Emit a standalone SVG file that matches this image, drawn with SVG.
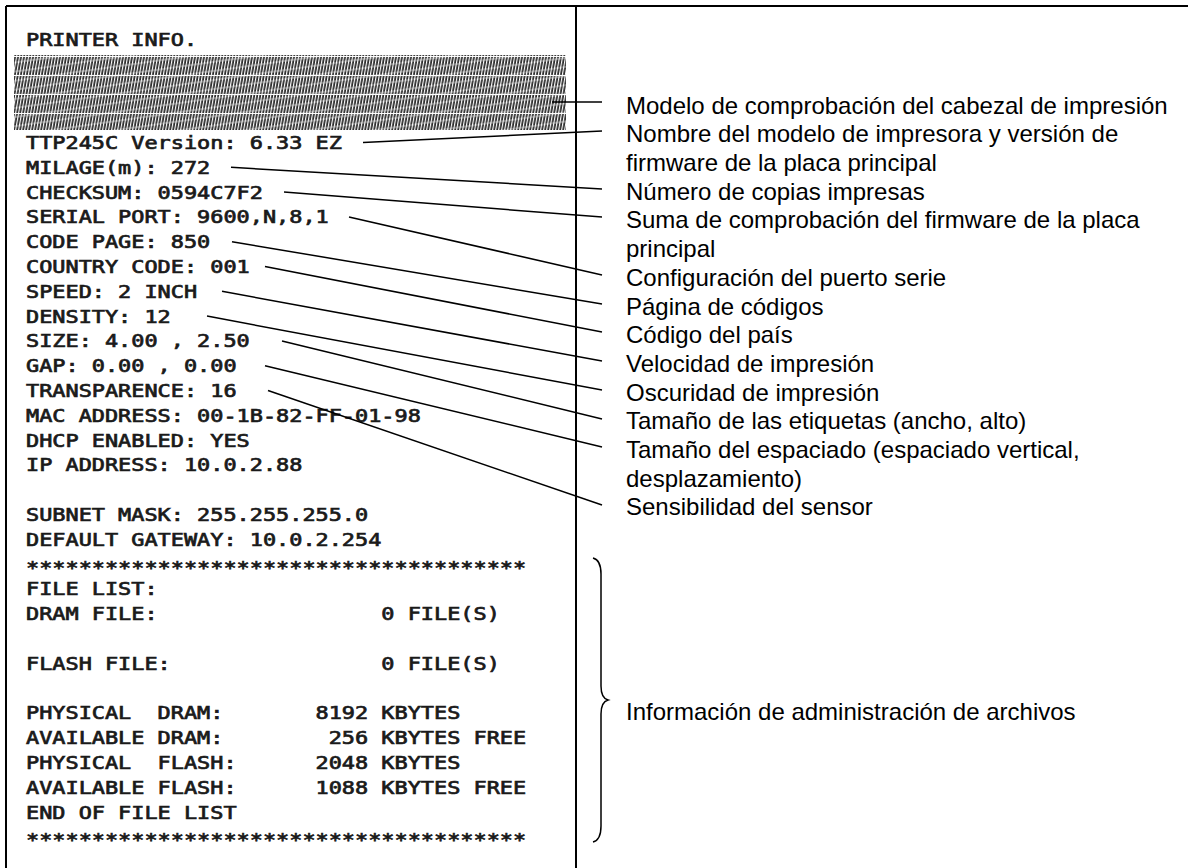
<svg xmlns="http://www.w3.org/2000/svg" width="1188" height="868" viewBox="0 0 1188 868">
<style>
.frame{stroke:#000;stroke-width:2;fill:none}
.pr{font-family:"DejaVu Sans Mono","Liberation Mono",monospace;font-size:17.5px;font-weight:normal;fill:#1a1a1a;stroke:#1a1a1a;stroke-width:0.7;white-space:pre}
.lb{font-family:"Liberation Sans",Arial,sans-serif;font-size:24px;fill:#000}
.cn{stroke:#000;stroke-width:1.5;fill:none}
</style>
<defs>
<pattern id="hatch" width="3" height="19" patternUnits="userSpaceOnUse" patternTransform="skewX(-10)">
<rect width="3" height="19" fill="#fff"/>
<rect x="0.2" y="0" width="1.8" height="18" fill="#2a2a2a"/>
</pattern>
<pattern id="band" width="600" height="9" patternUnits="userSpaceOnUse" patternTransform="rotate(-8)">
<rect y="0" width="600" height="2" fill="#fff" fill-opacity="0.3"/>
</pattern>
</defs>
<rect width="1188" height="868" fill="#fff"/>
<g id="frame">
<line class="frame" x1="6" y1="6" x2="1188" y2="6"/>
<line class="frame" x1="6" y1="6" x2="6" y2="868"/>
<line class="frame" x1="576" y1="6" x2="576" y2="868"/>
</g>
<g id="printout">
<rect x="14" y="55" width="552" height="75" fill="url(#hatch)"/>
<rect x="14" y="55" width="552" height="75" fill="url(#band)"/>
<g transform="scale(1.25,1)">
<text class="pr" xml:space="preserve" x="20.8" y="46">PRINTER INFO.</text>
<text class="pr" xml:space="preserve" x="20.8" y="149">TTP245C Version: 6.33 EZ</text>
<text class="pr" xml:space="preserve" x="20.8" y="173.8">MILAGE(m): 272</text>
<text class="pr" xml:space="preserve" x="20.8" y="198.6">CHECKSUM: 0594C7F2</text>
<text class="pr" xml:space="preserve" x="20.8" y="223.4">SERIAL PORT: 9600,N,8,1</text>
<text class="pr" xml:space="preserve" x="20.8" y="248.2">CODE PAGE: 850</text>
<text class="pr" xml:space="preserve" x="20.8" y="273">COUNTRY CODE: 001</text>
<text class="pr" xml:space="preserve" x="20.8" y="297.8">SPEED: 2 INCH</text>
<text class="pr" xml:space="preserve" x="20.8" y="322.6">DENSITY: 12</text>
<text class="pr" xml:space="preserve" x="20.8" y="347.4">SIZE: 4.00 , 2.50</text>
<text class="pr" xml:space="preserve" x="20.8" y="372.2">GAP: 0.00 , 0.00</text>
<text class="pr" xml:space="preserve" x="20.8" y="397">TRANSPARENCE: 16</text>
<text class="pr" xml:space="preserve" x="20.8" y="421.8">MAC ADDRESS: 00-1B-82-FF-01-98</text>
<text class="pr" xml:space="preserve" x="20.8" y="446.6">DHCP ENABLED: YES</text>
<text class="pr" xml:space="preserve" x="20.8" y="471.4">IP ADDRESS: 10.0.2.88</text>
<text class="pr" xml:space="preserve" x="20.8" y="521">SUBNET MASK: 255.255.255.0</text>
<text class="pr" xml:space="preserve" x="20.8" y="545.8">DEFAULT GATEWAY: 10.0.2.254</text>
<text class="pr" xml:space="preserve" x="20.8" y="573.6">**************************************</text>
<text class="pr" xml:space="preserve" x="20.8" y="595.4">FILE LIST:</text>
<text class="pr" xml:space="preserve" x="20.8" y="620.2">DRAM FILE:                 0 FILE(S)</text>
<text class="pr" xml:space="preserve" x="20.8" y="669.8">FLASH FILE:                0 FILE(S)</text>
<text class="pr" xml:space="preserve" x="20.8" y="719.4">PHYSICAL  DRAM:       8192 KBYTES</text>
<text class="pr" xml:space="preserve" x="20.8" y="744.2">AVAILABLE DRAM:        256 KBYTES FREE</text>
<text class="pr" xml:space="preserve" x="20.8" y="769">PHYSICAL  FLASH:      2048 KBYTES</text>
<text class="pr" xml:space="preserve" x="20.8" y="793.8">AVAILABLE FLASH:      1088 KBYTES FREE</text>
<text class="pr" xml:space="preserve" x="20.8" y="818.6">END OF FILE LIST</text>
<text class="pr" xml:space="preserve" x="20.8" y="846.4">**************************************</text>
</g>
</g>
<g id="connectors">
<line class="cn" x1="552" y1="102" x2="602" y2="102"/>
<line class="cn" x1="363" y1="142.5" x2="602" y2="131"/>
<line class="cn" x1="231" y1="167.3" x2="602" y2="189"/>
<line class="cn" x1="284" y1="192.1" x2="602" y2="217"/>
<line class="cn" x1="349" y1="216.9" x2="602" y2="275"/>
<line class="cn" x1="232" y1="241.7" x2="602" y2="304"/>
<line class="cn" x1="265" y1="266.5" x2="602" y2="332"/>
<line class="cn" x1="222" y1="291.3" x2="602" y2="361"/>
<line class="cn" x1="207" y1="316.1" x2="602" y2="390"/>
<line class="cn" x1="282" y1="340.9" x2="602" y2="419"/>
<line class="cn" x1="265" y1="365.7" x2="602" y2="447"/>
<line class="cn" x1="268" y1="390.5" x2="602" y2="505"/>
<path class="cn" d="M593,558 Q601,560 601,574 L601,686 Q601,698 608,700 Q601,702 601,714 L601,826 Q601,840 593,842"/>
</g>
<g id="labels">
<text class="lb" x="626" y="113.6">Modelo de comprobación del cabezal de impresión</text>
<text class="lb" x="626" y="142.3">Nombre del modelo de impresora y versión de</text>
<text class="lb" x="626" y="171">firmware de la placa principal</text>
<text class="lb" x="626" y="199.7">Número de copias impresas</text>
<text class="lb" x="626" y="228.4">Suma de comprobación del firmware de la placa</text>
<text class="lb" x="626" y="257.1">principal</text>
<text class="lb" x="626" y="285.8">Configuración del puerto serie</text>
<text class="lb" x="626" y="314.5">Página de códigos</text>
<text class="lb" x="626" y="343.2">Código del país</text>
<text class="lb" x="626" y="371.9">Velocidad de impresión</text>
<text class="lb" x="626" y="400.6">Oscuridad de impresión</text>
<text class="lb" x="626" y="429.3">Tamaño de las etiquetas (ancho, alto)</text>
<text class="lb" x="626" y="458">Tamaño del espaciado (espaciado vertical,</text>
<text class="lb" x="626" y="486.7">desplazamiento)</text>
<text class="lb" x="626" y="515.4">Sensibilidad del sensor</text>
<text class="lb" x="626" y="720">Información de administración de archivos</text>
</g>
</svg>
